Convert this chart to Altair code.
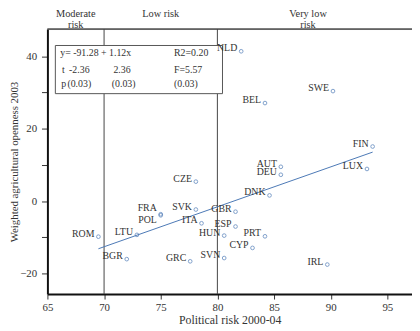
import altair as alt
import pandas as pd

countries = ["NLD", "SWE", "BEL", "FIN", "LUX", "AUT", "DEU", "DNK", "GBR", "ESP",
             "HUN", "PRT", "CZE", "SVK", "FRA", "POL", "ITA", "LTU", "ROM", "BGR",
             "GRC", "SVN", "CYP", "IRL"]
political_risk = [82.1, 90.2, 84.2, 93.7, 93.2, 85.6, 85.6, 84.6, 81.6, 81.6,
                  80.6, 84.2, 78.1, 78.1, 75.0, 75.0, 78.6, 72.9, 69.5, 72.0,
                  77.6, 80.6, 83.1, 89.7]
openness = [41.4, 30.4, 27.1, 15.1, 8.9, 9.5, 7.3, 1.6, -2.9, -7.0,
            -9.5, -9.7, 5.4, -2.3, -3.6, -3.9, -6.1, -9.3, -9.8, -16.0,
            -16.6, -15.7, -12.9, -17.5]

zone_x = [67.5, 75.0, 88.0]
zone_names = ["Moderate\nrisk", "Low risk", "Very low\nrisk"]
zone_bounds = [70, 80]

stat_texts = ["y= -91.28 + 1.12x", "R2=0.20",
              "t", "-2.36", "2.36", "F=5.57",
              "p", "(0.03)", "(0.03)", "(0.03)"]

W, H = 370, 269
XD = [65, 65 + W / 11.5]
YD = [-25.66, 47.54]
FONT = "Liberation Serif"
BLUE = "#4a78b5"
GREY = "#333333"

df = pd.DataFrame({"country": countries, "risk": political_risk, "open": openness})
zones = pd.DataFrame({"x": zone_x, "name": zone_names})
bounds = pd.DataFrame({"x": zone_bounds})
box = pd.DataFrame({"x": [65.7], "x2": [80.45], "y": [29.7], "y2": [43.0]})
stats = pd.DataFrame({
    "t": stat_texts,
    "px": [13, 128.5, 14.7, 22, 67, 128.5, 14, 20.3, 65.3, 128.5],
    "py": [24.7, 24.7, 41.3, 41.3, 41.3, 41.3, 56.3, 56.3, 56.3, 56.3],
})

xs = alt.Scale(domain=XD, nice=False, zero=False)
ys = alt.Scale(domain=YD, nice=False, zero=False)

x_ticks = [65 + 2.5 * i for i in range(13)]
y_ticks = [-20, -10, 0, 10, 20, 30, 40]

base = alt.Chart(df)

points = base.mark_point(shape="circle", size=14, color=BLUE, strokeWidth=1, filled=False).encode(
    x=alt.X("risk:Q", scale=xs, title="Political risk 2000-04",
            axis=alt.Axis(values=x_ticks, labelExpr="datum.value % 5 == 0 ? datum.label : ''",
                          grid=False, tickSize=5, labelPadding=3, titlePadding=2,
                          labelFlush=False, labelOverlap=False,
                          domainWidth=2, domainColor="#111", tickColor="#333",
                          labelFont=FONT, labelFontSize=11, labelColor=GREY,
                          titleFont=FONT, titleFontSize=12, titleFontWeight="normal",
                          titleColor=GREY)),
    y=alt.Y("open:Q", scale=ys, title="Weighted agricultural openness 2003",
            axis=alt.Axis(values=y_ticks, labelExpr="datum.value % 20 == 0 ? datum.label : ''",
                          grid=False, tickSize=6, labelPadding=5, titlePadding=0,
                          labelFlush=False, labelOverlap=False,
                          domainWidth=2, domainColor="#111", tickColor="#333",
                          labelFont=FONT, labelFontSize=11, labelColor=GREY,
                          titleFont=FONT, titleFontSize=11, titleFontWeight="normal",
                          titleColor=GREY)),
)

label_enc = dict(x=alt.X("risk:Q", scale=xs), y=alt.Y("open:Q", scale=ys), text="country:N")

labels = base.transform_filter("datum.country != 'POL' && datum.country != 'FRA'").mark_text(
    align="right", baseline="middle", dx=-4, dy=-3, font=FONT, fontSize=10, color=GREY
).encode(**label_enc)

fra_label = base.transform_filter("datum.country == 'FRA'").mark_text(
    align="right", baseline="middle", dx=-4, dy=-6, font=FONT, fontSize=10, color=GREY
).encode(**label_enc)

pol_label = base.transform_filter("datum.country == 'POL'").mark_text(
    align="right", baseline="middle", dx=-4, dy=5, font=FONT, fontSize=10, color=GREY
).encode(**label_enc)

fit = base.transform_regression("risk", "open").mark_line(color=BLUE, strokeWidth=1).encode(
    x=alt.X("risk:Q", scale=xs), y=alt.Y("open:Q", scale=ys))

vlines = alt.Chart(bounds).mark_rule(color="#444", strokeWidth=1).encode(
    x=alt.X("x:Q", scale=xs), y=alt.value(0), y2=alt.value(H))

topline = alt.Chart(bounds).mark_rule(color="#444", strokeWidth=1).encode(
    x=alt.value(0), x2=alt.value(W), y=alt.value(0))

boxmark = alt.Chart(box).mark_rect(fill="white", stroke="#555", strokeWidth=1).encode(
    x=alt.X("x:Q", scale=xs), x2="x2:Q", y=alt.Y("y:Q", scale=ys), y2="y2:Q")

stat_text = alt.Chart(stats).mark_text(
    align="left", baseline="middle", font=FONT, fontSize=10, color=GREY
).encode(x=alt.X("px:Q", scale=None), y=alt.Y("py:Q", scale=None), text="t:N")

headers = alt.Chart(zones).mark_text(
    align="center", baseline="middle", font=FONT, fontSize=10.5, color=GREY, lineBreak="\n",
    lineHeight=10.5
).encode(x=alt.X("x:Q", scale=xs), y=alt.value(-14.75), text="name:N")

chart = alt.layer(
    vlines, topline, boxmark, stat_text, fit, points, labels, fra_label, pol_label, headers
).properties(
    width=W, height=H,
    autosize=alt.AutoSizeParams(type="none"),
    padding={"left": 40, "top": 19, "right": 0, "bottom": 30},
).configure_view(stroke=None).configure(background="white")

chart.save("out.html", embed_options={"renderer": "svg", "actions": False})
